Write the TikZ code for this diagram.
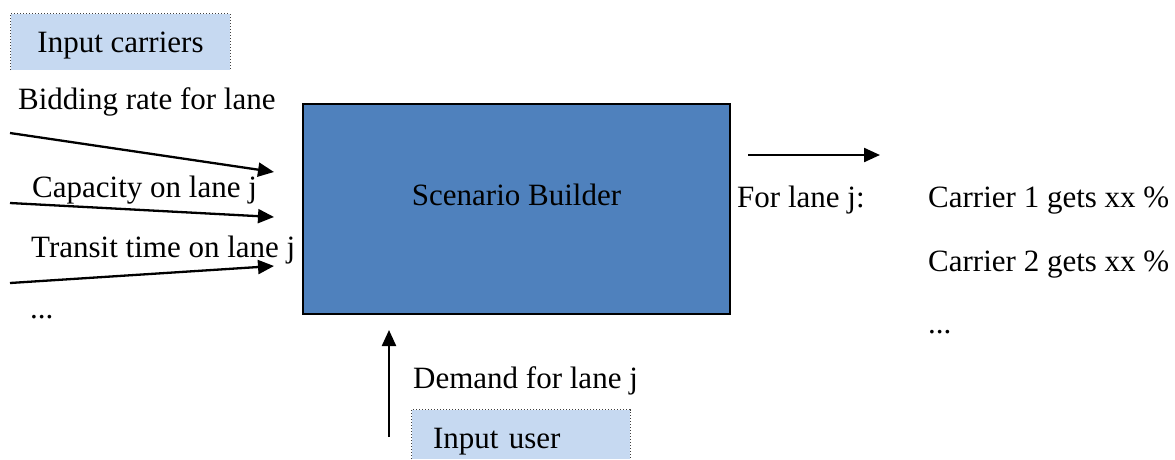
\documentclass[tikz,border=0pt]{standalone}
\usepackage{fontspec}
\setmainfont{Liberation Serif}
\usetikzlibrary{arrows.meta}
\definecolor{inputfill}{HTML}{C6D9F1}
\definecolor{corefill}{HTML}{4F81BD}
\definecolor{edgegray}{HTML}{404040}
\begin{document}
\begin{tikzpicture}[x=1pt,y=-1pt,
  txt/.style={font=\fontsize{31}{37}\selectfont},
  lbl/.style={txt, anchor=base west, inner sep=0pt},
  inbox/.style={txt, fill=inputfill, inner sep=0pt, text height=20pt, text depth=0pt},
  dotedge/.style={edgegray, line width=1pt, dotted},
  flow/.style={line width=2.3pt, -{Triangle[length=16pt,width=14pt]}}]
\useasboundingbox (0,0) rectangle (1175,459);

% input boxes (open at the bottom)
\node[inbox, minimum width=219pt, minimum height=56pt] (carriers) at (120.5,42) {Input carriers};
\draw[dotedge] (carriers.south west) -- (carriers.north west) -- (carriers.north east) -- (carriers.south east);

\node[inbox, inner xsep=21pt, text width=176pt, align=left, minimum height=49pt,
      text height=27pt] (user) at (521,434.5) {Input user};
\draw[dotedge] (user.south west) -- (user.north west) -- (user.north east) -- (user.south east);

% central block
\node[txt, fill=corefill, draw=black, line width=1.5pt, minimum width=427pt, minimum height=210pt,
      inner sep=0pt, text height=20pt, text depth=28pt] (builder) at (516.5,209) {Scenario Builder};

% carrier inputs
\node[lbl] (bid) at (18,109) {Bidding rate for lane};
\node[lbl] (capacity) at (32,197) {Capacity on lane j};
\node[lbl] (transit) at (31,257) {Transit time on lane j};
\node[lbl] (moreinputs) at (30,318) {...};

\coordinate (bidS) at (10,133);  \coordinate (bidE) at (274,172);
\coordinate (capS) at (10,203);  \coordinate (capE) at (274,217);
\coordinate (traS) at (10,283);  \coordinate (traE) at (274,266);
\draw[flow] (bidS) -- (bidE);
\draw[flow] (capS) -- (capE);
\draw[flow] (traS) -- (traE);

% user input
\node[lbl] (demand) at (413,388) {Demand for lane j};
\coordinate (demS) at (389,437); \coordinate (demE) at (389,330);
\draw[flow] (demS) -- (demE);

% output
\coordinate (outS) at (748,155); \coordinate (outE) at (880,155);
\draw[flow] (outS) -- (outE);
\node[lbl] (forlane) at (737,207) {For lane j:};
\node[lbl] (share1) at (928,207) {Carrier 1 gets xx \%};
\node[lbl] (share2) at (928,271) {Carrier 2 gets xx \%};
\node[lbl] (moreshares) at (928,333) {...};
\end{tikzpicture}
\end{document}
